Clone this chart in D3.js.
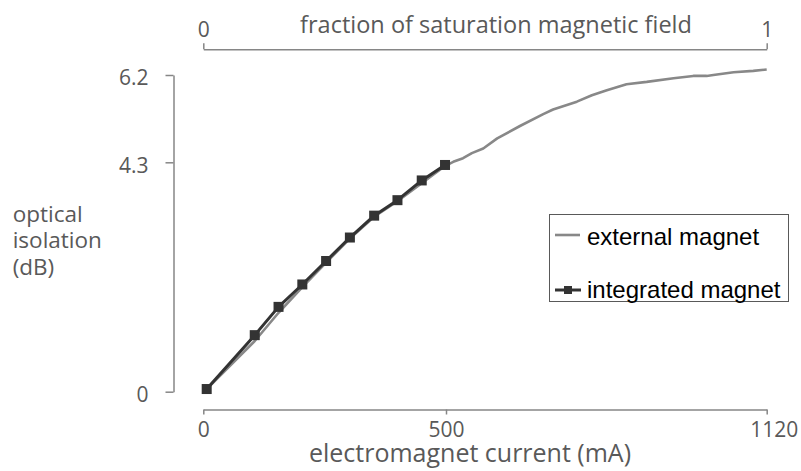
<!DOCTYPE html>
<html>
  <head>
    <meta charset="utf-8">
    <title>Optical isolation vs electromagnet current</title>
    <script src="https://cdn.jsdelivr.net/npm/d3@7"></script>
    <style>
      body { margin: 0; background: #fff; }
      svg { display: block; }
      .axis path, .axis line { stroke: #868686; stroke-width: 1.5; }
      .axis text { fill: #595959; font-size: 21px; font-family: "Open Sans", sans-serif; }
      .axisTitle { fill: #595959; font-family: "Open Sans", sans-serif; }
      .legendText { fill: #000; font-size: 24px; font-family: "Liberation Sans", Arial, sans-serif; }
    </style>
  </head>

  <body>
    <svg id="chart" width="801" height="471">
      <g id="xAxisGroup" class="axis"></g>
      <g id="topAxisGroup" class="axis"></g>
      <g id="yAxisGroup" class="axis"></g>
      <g id="lineGroup"></g>
      <g id="legendGroup"></g>
    </svg>

    <script>
      // data: electromagnet current (mA) and optical isolation (dB)
      externalCurrent = [7, 106, 155, 204, 253, 302, 352, 400, 450, 498, 514, 533, 550, 572, 599, 643, 688, 707, 753, 782, 811, 849, 888, 940, 978, 1004, 1017, 1056, 1094, 1120];
      externalIsolation = [0.05, 0.95, 1.48, 1.96, 2.42, 2.87, 3.28, 3.57, 3.91, 4.23, 4.31, 4.39, 4.50, 4.60, 4.82, 5.09, 5.35, 5.45, 5.62, 5.76, 5.87, 6.00, 6.05, 6.13, 6.18, 6.18, 6.20, 6.26, 6.29, 6.32];
      integratedCurrent = [7, 106, 155, 204, 253, 302, 352, 400, 450, 498];
      integratedIsolation = [0.05, 1.06, 1.59, 2.01, 2.45, 2.89, 3.30, 3.59, 3.96, 4.25];

      // tick labels
      currentTicks = [0, 500, 1120];
      isolationTicks = [0, 4.3, 6.2];
      fieldTicks = [0, 1];
      seriesNames = ["external magnet", "integrated magnet"];

      // page elements
      chart = d3.select("#chart");
      xAxisGroup = d3.select("#xAxisGroup");
      topAxisGroup = d3.select("#topAxisGroup");
      yAxisGroup = d3.select("#yAxisGroup");
      lineGroup = d3.select("#lineGroup");
      legendGroup = d3.select("#legendGroup");

      // scales (the axes are labelled at the points that matter, so they bend)
      x = d3.scaleLinear()
        .domain(currentTicks)
        .range([203.3, 446, 766.7]);
      y = d3.scaleLinear()
        .domain(isolationTicks)
        .range([391.7, 162.3, 75]);
      field = d3.scaleLinear()
        .domain(fieldTicks)
        .range([203.3, 766.7]);

      // axes
      xAxisGroup.attr("transform", "translate(0, 409.5)")
        .call(d3.axisBottom(x).tickValues(currentTicks).tickFormat(d3.format("d")).tickSize(5).tickSizeOuter(0).tickPadding(8));
      xAxisGroup.selectAll(".tick text")
        .attr("dx", function(d) { return d == 1120 ? 7 : 0; });

      topAxisGroup.attr("transform", "translate(0, 49.3)")
        .call(d3.axisTop(field).tickValues(fieldTicks).tickFormat(d3.format("d")).tickSize(6).tickSizeOuter(0).tickPadding(6));

      yAxisGroup.attr("transform", "translate(173.5, 0)")
        .call(d3.axisLeft(y).tickValues(isolationTicks).tickFormat(function(d) { return d == 0 ? "0" : d3.format(".1f")(d); }).tickSize(8).tickSizeOuter(0).tickPadding(17));
      yAxisGroup.selectAll(".tick text").attr("y", 3);
      d3.selectAll(".axis .domain").attr("fill", "none");

      // axis titles
      chart.append("text")
        .attr("class", "axisTitle")
        .attr("x", 496)
        .attr("y", 33)
        .attr("font-size", "23.5px")
        .attr("text-anchor", "middle")
        .text("fraction of saturation magnetic field");
      chart.append("text")
        .attr("class", "axisTitle")
        .attr("x", 470)
        .attr("y", 461.5)
        .attr("font-size", "25px")
        .attr("text-anchor", "middle")
        .text("electromagnet current (mA)");
      yTitle = chart.append("text")
        .attr("class", "axisTitle")
        .attr("font-size", "22.5px")
        .attr("x", 12.7)
        .attr("y", 221.7);
      ["optical", "isolation", "(dB)"].forEach(function(t, i) {
        yTitle.append("tspan")
          .attr("x", 12.7)
          .attr("dy", i == 0 ? 0 : 26.7)
          .text(t);
      });

      // lines
      externalData = externalCurrent.map(function(d, i) { return { x: d, y: externalIsolation[i] }; });
      integratedData = integratedCurrent.map(function(d, i) { return { x: d, y: integratedIsolation[i] }; });

      line = d3.line()
        .x(function(d) { return x(d.x); })
        .y(function(d) { return y(d.y); });

      lineGroup.append("path")
        .datum(externalData)
        .attr("d", line)
        .attr("fill", "none")
        .attr("stroke", "#888888")
        .attr("stroke-width", 2.6)
        .attr("stroke-linejoin", "round");

      lineGroup.append("path")
        .datum(integratedData)
        .attr("d", line)
        .attr("fill", "none")
        .attr("stroke", "#333333")
        .attr("stroke-width", 3)
        .attr("stroke-linejoin", "round");

      lineGroup.selectAll(".marker")
          .data(integratedData)
        .enter().append("rect")
          .attr("class", "marker")
          .attr("x", function(d) { return x(d.x) - 5; })
          .attr("y", function(d) { return y(d.y) - 5; })
          .attr("width", 10)
          .attr("height", 10)
          .attr("fill", "#333333");

      // legend
      legendGroup.append("rect")
        .attr("x", 549.5)
        .attr("y", 214.5)
        .attr("width", 239)
        .attr("height", 87)
        .attr("fill", "#fff")
        .attr("stroke", "#595959")
        .attr("stroke-width", 1);

      legendGroup.append("line")
        .attr("x1", 555).attr("x2", 580)
        .attr("y1", 235).attr("y2", 235)
        .attr("stroke", "#888888")
        .attr("stroke-width", 2.6);
      legendGroup.append("line")
        .attr("x1", 555).attr("x2", 581)
        .attr("y1", 290).attr("y2", 290)
        .attr("stroke", "#333333")
        .attr("stroke-width", 3);
      legendGroup.append("rect")
        .attr("x", 564).attr("y", 286)
        .attr("width", 8).attr("height", 8)
        .attr("fill", "#333333");

      legendGroup.selectAll(".legendText")
          .data(seriesNames)
        .enter().append("text")
          .attr("class", "legendText")
          .attr("x", 587)
          .attr("y", function(d, i) { return i == 0 ? 245 : 297.5; })
          .text(function(d) { return d; });
    </script>
  </body>
</html>
